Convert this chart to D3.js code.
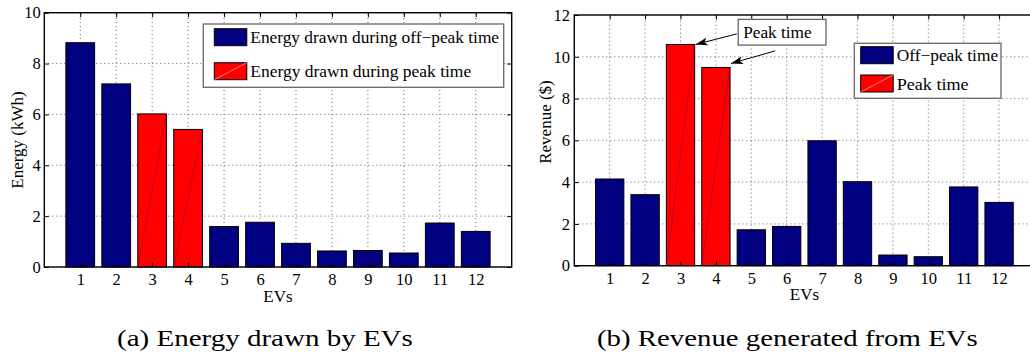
<!DOCTYPE html>
<html><head><meta charset="utf-8">
<script src="https://cdn.jsdelivr.net/npm/d3@7"></script>
<style>
body{margin:0;background:#fff}
svg text{font-family:'Liberation Serif','Times New Roman',Times,'DejaVu Serif',serif;fill:#000}
</style>
</head><body><svg id="c" width="1030" height="356" font-family="Liberation Serif, Times New Roman, serif"></svg>
<script>
// ---- data ----
const evs = [1,2,3,4,5,6,7,8,9,10,11,12];
const energy = [8.82,7.2,6.02,5.41,1.59,1.76,0.93,0.63,0.65,0.55,1.73,1.40];
const revenue = [4.15,3.40,10.59,9.49,1.72,1.88,5.98,4.02,0.51,0.43,3.77,3.03];
const period = ["off","off","peak","peak","off","off","off","off","off","off","off","off"];
const energyTicks = [0,2,4,6,8,10];
const revenueTicks = [0,2,4,6,8,10,12];
const legendA = ["Energy drawn during off\u2212peak time","Energy drawn during peak time"];
const legendB = ["Off\u2212peak time","Peak time"];
const captions = ["(a) Energy drawn by EVs","(b) Revenue generated from EVs"];
const annotationText = "Peak time";

const FONT = "'Liberation Serif','Times New Roman',Times,serif";
const colors = {off:"#000080", peak:"#ff0000"};
const svg = d3.select("#c");

// place text at (x,y) and stretch horizontally so that it spans width w
function fitText(parent, x, y, w, size, str){
  const t = parent.append("text").attr("x",0).attr("y",0)
    .style("font-family",FONT).style("font-size",size+"px").text(str);
  const nat = t.node().getComputedTextLength() || w;
  t.attr("transform",`translate(${x},${y}) scale(${w/nat},1)`);
  return t;
}

function panel(cfg){
  const x = d3.scaleLinear().domain([0,13]).range([cfg.l, cfg.r]);
  const y = d3.scaleLinear().domain([0,cfg.ymax]).range([cfg.b, cfg.t]);
  const g = svg.append("g");
  const bw = (x(1)-x(0))*0.8;
  // grid
  g.selectAll(".gx").data(evs).enter().append("line")
    .attr("x1",d=>x(d)).attr("x2",d=>x(d)).attr("y1",cfg.b).attr("y2",cfg.t)
    .attr("stroke","#666").attr("stroke-width",1).attr("stroke-dasharray","1,3");
  g.selectAll(".gy").data(cfg.ticks).enter().append("line")
    .attr("x1",cfg.l).attr("x2",cfg.r).attr("y1",d=>y(d)).attr("y2",d=>y(d))
    .attr("stroke","#666").attr("stroke-width",1).attr("stroke-dasharray","1,3");
  // bars
  const bars = g.selectAll(".bar").data(evs).enter().append("g");
  bars.append("rect")
    .attr("x",d=>x(d)-bw/2).attr("width",bw)
    .attr("y",(d,i)=>y(cfg.values[i])).attr("height",(d,i)=>y(0)-y(cfg.values[i]))
    .attr("fill",(d,i)=>colors[period[i]]).attr("stroke","#000").attr("stroke-width",1);
  bars.filter((d,i)=>period[i]==="peak").append("line")
    .attr("x1",d=>x(d)-bw/2).attr("y1",y(0))
    .attr("x2",d=>x(d)+bw/2).attr("y2",d=>y(cfg.values[d-1]))
    .attr("stroke","#70004a").attr("stroke-opacity",0.55).attr("stroke-width",0.8);
  // axes
  const ax = [
    [d3.axisBottom(x).tickValues(evs).tickSizeInner(-4.5).tickSizeOuter(0).tickPadding(6.5), `translate(0,${cfg.b})`],
    [d3.axisTop(x).tickValues(evs).tickSizeInner(-4.5).tickSizeOuter(0).tickFormat(""), `translate(0,${cfg.t})`],
    [d3.axisLeft(y).tickValues(cfg.ticks).tickSizeInner(-4.5).tickSizeOuter(0).tickPadding(cfg.ypad), `translate(${cfg.l},0)`],
    [d3.axisRight(y).tickValues(cfg.ticks).tickSizeInner(-4.5).tickSizeOuter(0).tickFormat(""), `translate(${cfg.r},0)`]
  ];
  ax.forEach(([a,tr])=>{
    const ag = g.append("g").attr("transform",tr).call(a);
    ag.attr("font-family",FONT).attr("font-size",16.5);
    ag.select(".domain").remove();
    ag.selectAll("line").attr("stroke","#000").attr("stroke-width",1);
    ag.selectAll("text").style("font-family",FONT).style("font-size","16.5px").attr("fill","#000");
  });
  g.append("rect").attr("x",cfg.l).attr("y",cfg.t).attr("width",cfg.r-cfg.l).attr("height",cfg.b-cfg.t)
    .attr("fill","none").attr("stroke","#000").attr("stroke-width",1.4);
  // labels
  g.append("text").attr("x",(cfg.l+cfg.r)/2).attr("y",cfg.xlabY).attr("text-anchor","middle")
    .style("font-family",FONT).style("font-size","17px").text("EVs");
  g.append("text").attr("transform",`translate(${cfg.ylabX},${cfg.ylabY}) rotate(-90)`).attr("text-anchor","middle")
    .style("font-family",FONT).style("font-size","17px").text(cfg.ylabel);
  // caption
  fitText(g, cfg.capX, 346, cfg.capW, 23.5, cfg.caption);
  // legend
  const L = cfg.leg;
  g.append("rect").attr("x",L.x).attr("y",L.y).attr("width",L.w).attr("height",L.h)
    .attr("fill","#fff").attr("stroke","#666").attr("stroke-width",1.3);
  ["off","peak"].forEach((k,i)=>{
    const sy = L.y + L.sy[i];
    g.append("rect").attr("x",L.x+L.sx).attr("y",sy).attr("width",32.5).attr("height",17)
      .attr("fill",colors[k]).attr("stroke","#000").attr("stroke-width",1);
    if(k==="peak") g.append("line").attr("x1",L.x+L.sx).attr("y1",sy+17).attr("x2",L.x+L.sx+32.5).attr("y2",sy)
      .attr("stroke","#ffb0b0").attr("stroke-width",0.7);
    fitText(g, L.x+L.sx+36, sy+14.5, L.tw[i], 17, L.texts[i]);
  });
  return {x,y,bw,g};
}

panel({l:44.3,r:511.7,t:12.7,b:267,ymax:10,ticks:energyTicks,values:energy,ypad:3.5,
  xlabY:302,ylabX:22.7,ylabY:140,ylabel:"Energy (kWh)",caption:captions[0],capX:117,capW:296,
  leg:{x:203.3,y:24,w:300.4,h:63.3,sx:11,sy:[4.7,38.7],texts:legendA,tw:[249,221]}});

const B = panel({l:574.3,r:1034.5,t:15,b:265.7,ymax:12,ticks:revenueTicks,values:revenue,ypad:4.3,
  xlabY:300,ylabX:550.5,ylabY:122,ylabel:"Revenue ($)",caption:captions[1],capX:597,capW:381,
  leg:{x:854.3,y:43.3,w:146.7,h:55,sx:6.4,sy:[3.4,31.7],texts:legendB,tw:[101.5,72]}});

// annotation "Peak time" with arrows pointing to peak bars
const ann = {x0:4.63, y0:11.79, x1:7.11, y1:10.56};
const ax0 = B.x(ann.x0), ay0 = B.y(ann.y0), ax1 = B.x(ann.x1), ay1 = B.y(ann.y1);
svg.append("defs").append("marker").attr("id","ah").attr("viewBox","0 0 12 8").attr("refX",12).attr("refY",4)
  .attr("markerWidth",12).attr("markerHeight",8).attr("markerUnits","userSpaceOnUse").attr("orient","auto")
  .append("path").attr("d","M0,0 L12,4 L0,8 L3,4 Z").attr("fill","#000");
const peakIdx = evs.filter((d,i)=>period[i]==="peak");
const starts = [[ax0-1.5, ay0+14.5],[ax0+37, ay0+31.5]];
peakIdx.forEach((d,j)=>{
  B.g.append("line").attr("x1",starts[j][0]).attr("y1",starts[j][1])
    .attr("x2",B.x(d)+B.bw/2+1).attr("y2",B.y(revenue[d-1])+(j===0?0:-4))
    .attr("stroke","#000").attr("stroke-width",1).attr("marker-end","url(#ah)");
});
B.g.append("rect").attr("x",ax0).attr("y",ay0).attr("width",ax1-ax0).attr("height",ay1-ay0)
  .attr("fill","#fff").attr("stroke","#666").attr("stroke-width",1.3);
fitText(B.g, ax0+5, ay0+19, 68.4, 17, annotationText);
</script>
</body></html>
